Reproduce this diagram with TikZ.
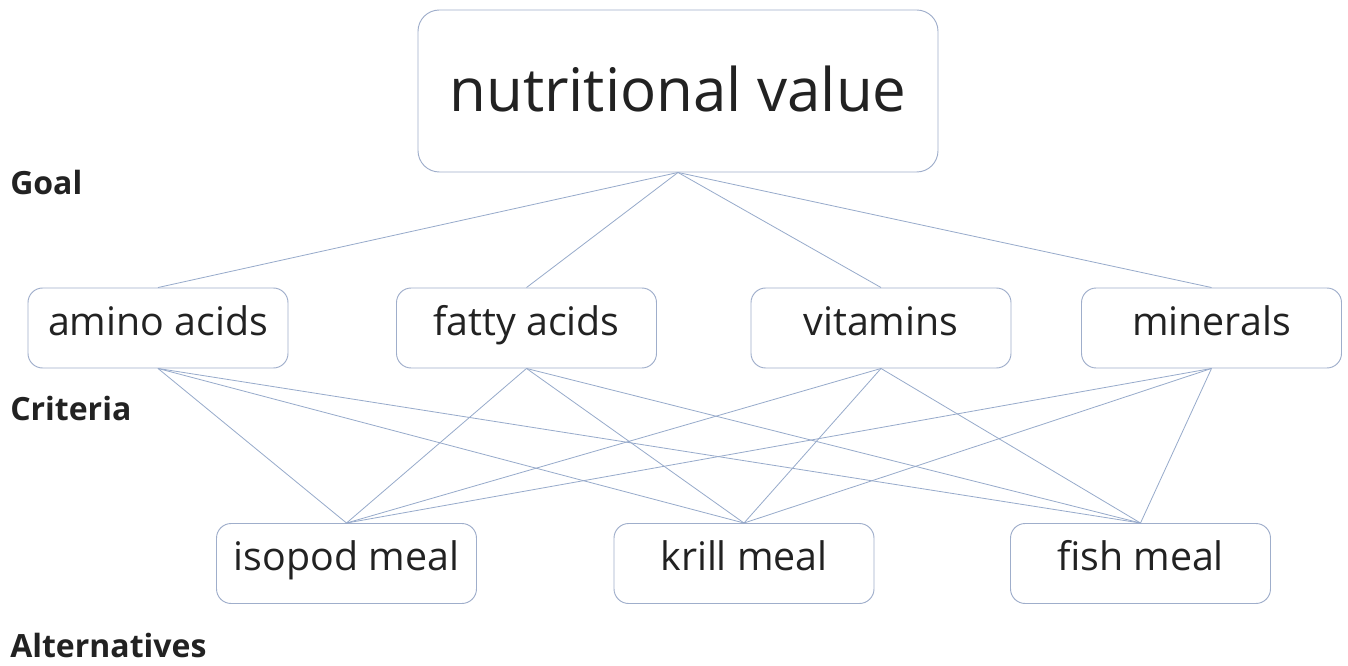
\documentclass[tikz,border=0pt]{standalone}
\usepackage{fontspec}
\setmainfont{Open Sans}
\definecolor{boxc}{HTML}{9FAECB}
\definecolor{linec}{HTML}{97AACB}
\definecolor{txt}{HTML}{222222}
\begin{document}
\begin{tikzpicture}[x=0.75pt,y=-0.75pt,
  box/.style={draw=boxc, rounded corners=11pt, line width=0.7pt, minimum width=195pt, minimum height=60pt, inner sep=0pt, text=txt, text height=19pt, text depth=8.5pt, font=\fontsize{29.5}{32}\selectfont},
  topbox/.style={box, rounded corners=16pt, minimum width=390pt, minimum height=121.5pt, text height=45pt, text depth=13.5pt, font=\fontsize{45}{52}\selectfont},
  lvl/.style={anchor=west, inner sep=0pt, text=txt, font=\bfseries\fontsize{24}{27}\selectfont},
  link/.style={draw=linec, line width=0.6pt}]
\useasboundingbox (0,0) rectangle (1348,666);
\fill[white] (0,0) rectangle (1348,666);
\node[topbox] (goal) at (678,91) {nutritional value};
\node[box] (amino) at (158,328) {amino acids};
\node[box] (fatty) at (526.5,328) {fatty acids};
\node[box] (vit) at (881,328) {vitamins};
\node[box] (min) at (1211.5,328) {minerals};
\node[box] (iso) at (346.5,563.5) {isopod meal};
\node[box] (krill) at (744,563.5) {krill meal};
\node[box] (fish) at (1140.5,563.5) {fish meal};
\node[lvl] (lgoal) at (10,183) {Goal};
\node[lvl] (lcrit) at (10,408) {Criteria};
\node[lvl] (lalt) at (10,645) {Alternatives};
\foreach \c in {amino,fatty,vit,min}{
  \draw[link] (goal.south) -- (\c.north);
  \foreach \a in {iso,krill,fish}{
    \draw[link] (\c.south) -- (\a.north);
  }
}
\end{tikzpicture}
\end{document}
